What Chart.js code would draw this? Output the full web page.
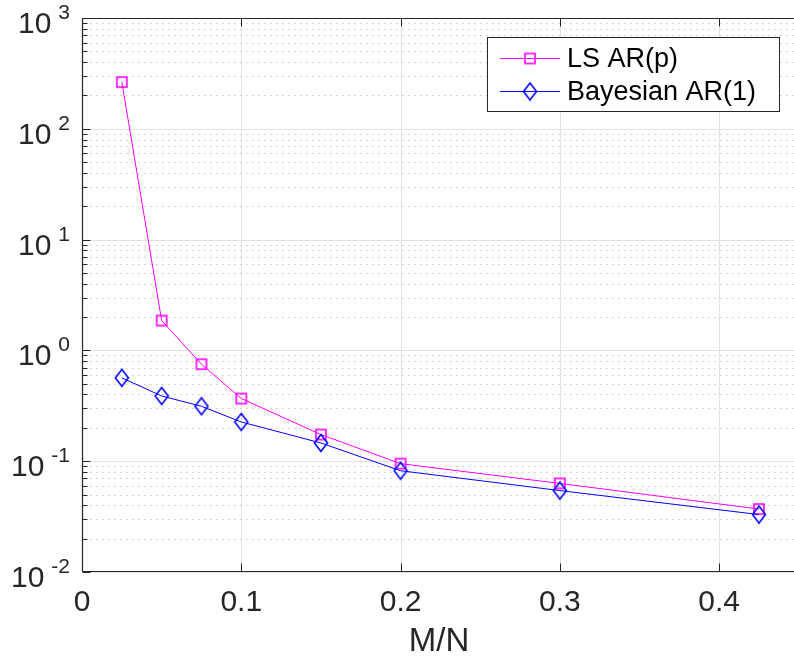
<!DOCTYPE html>
<html><head><meta charset="utf-8">
<script src="https://cdn.jsdelivr.net/npm/chart.js@4/dist/chart.umd.min.js"></script>
<style>html,body{margin:0;padding:0;background:#fff;overflow:hidden}#wrap{width:794px;height:657px;position:relative}</style>
</head><body><div id="wrap"><canvas id="c"></canvas></div>
<script>
const xValues = [0.025, 0.05, 0.075, 0.1, 0.15, 0.2, 0.3, 0.425];
const lsValues = [264, 1.86, 0.75, 0.368, 0.174, 0.095, 0.063, 0.037];
const bayesValues = [0.565, 0.388, 0.313, 0.226, 0.146, 0.082, 0.0543, 0.033];
const seriesNames = ['LS AR(p)', 'Bayesian AR(1)'];
const xTicks = [0, 0.1, 0.2, 0.3, 0.4];
const xTickLabels = ['0', '0.1', '0.2', '0.3', '0.4'];
const yExponents = [-2, -1, 0, 1, 2, 3];
const xTitle = 'M/N';

const FONT = '"Liberation Sans", Arial, Helvetica, sans-serif';
const TXT = '#262626';

function makeMarker(kind, color) {
  const c = document.createElement('canvas');
  if (kind === 'square') {
    c.width = 14; c.height = 14;
    const g = c.getContext('2d');
    g.strokeStyle = color; g.lineWidth = 1.6;
    g.strokeRect(2, 2, 10, 10);
  } else {
    c.width = 16; c.height = 20;
    const g = c.getContext('2d');
    g.strokeStyle = color; g.lineWidth = 1.6;
    g.beginPath(); g.moveTo(8, 1.5); g.lineTo(14.5, 10); g.lineTo(8, 18.5); g.lineTo(1.5, 10); g.closePath(); g.stroke();
  }
  return c;
}
const sqMarker = makeMarker('square', '#ff00ff');
const dmMarker = makeMarker('diamond', '#0000ff');

function seg(ctx, x1, y1, x2, y2) { ctx.beginPath(); ctx.moveTo(x1, y1); ctx.lineTo(x2, y2); ctx.stroke(); }

const matlabAxes = {
  id: 'matlabAxes',
  beforeDatasetsDraw(chart) {
    const { ctx, chartArea: a, scales: { x, y } } = chart;
    ctx.save();
    ctx.lineWidth = 1;
    ctx.strokeStyle = '#c8c8c8';
    ctx.setLineDash([1.5, 4.5]);
    for (let e = yExponents[0]; e < yExponents[yExponents.length - 1]; e++) {
      for (let k = 2; k <= 9; k++) {
        const py = Math.round(y.getPixelForValue(k * Math.pow(10, e))) + 0.5;
        seg(ctx, a.left + 2, py, a.right, py);
      }
    }
    ctx.setLineDash([]);
    ctx.strokeStyle = '#e2e2e2';
    yExponents.forEach(e => {
      const py = Math.round(y.getPixelForValue(Math.pow(10, e))) + 0.5;
      seg(ctx, a.left, py, a.right, py);
    });
    xTicks.forEach(v => {
      const px = Math.round(x.getPixelForValue(v)) + 0.5;
      seg(ctx, px, a.top, px, a.bottom);
    });
    ctx.restore();
  },
  afterDatasetsDraw(chart) {
    const { ctx, chartArea: a, scales: { x, y } } = chart;
    ctx.save();
    ctx.strokeStyle = TXT; ctx.lineWidth = 1.2;
    const L = Math.round(a.left) + 0.5, B = Math.round(a.bottom) - 0.5, T = Math.round(a.top) + 0.5;
    seg(ctx, L, T, L, B);
    seg(ctx, L, B, a.right, B);
    seg(ctx, L, T, a.right, T);
    ctx.lineWidth = 1;
    for (let e = yExponents[0]; e <= yExponents[yExponents.length - 1]; e++) {
      const py = Math.round(y.getPixelForValue(Math.pow(10, e))) + 0.5;
      seg(ctx, L, py, L + 8, py);
      if (e < yExponents[yExponents.length - 1]) {
        for (let k = 2; k <= 9; k++) {
          const q = Math.round(y.getPixelForValue(k * Math.pow(10, e))) + 0.5;
          seg(ctx, L, q, L + 5, q);
        }
      }
    }
    xTicks.forEach(v => {
      const px = Math.round(x.getPixelForValue(v)) + 0.5;
      seg(ctx, px, B, px, B - 8);
      seg(ctx, px, T, px, T + 8);
    });
    // labels
    ctx.fillStyle = TXT;
    ctx.textBaseline = 'alphabetic';
    ctx.textAlign = 'center';
    ctx.font = '30px ' + FONT;
    xTicks.forEach((v, i) => ctx.fillText(xTickLabels[i], x.getPixelForValue(v), 611));
    ctx.font = '33px ' + FONT;
    ctx.fillText(xTitle, 439, 651);
    ctx.textAlign = 'right';
    yExponents.forEach(e => {
      const py = y.getPixelForValue(Math.pow(10, e));
      const s = String(e);
      ctx.font = '21px ' + FONT;
      ctx.fillText(s, 70, py + 1);
      const w = ctx.measureText(s).width;
      ctx.font = '30px ' + FONT;
      ctx.fillText('10', 70 - w - 7, py + 15);
    });
    // legend
    ctx.fillStyle = '#ffffff';
    ctx.fillRect(488, 38, 292, 74);
    ctx.strokeStyle = TXT; ctx.lineWidth = 1;
    ctx.strokeRect(487.5, 37.5, 292, 74);
    const rows = [58.5, 91.5];
    chart.data.datasets.forEach((ds, i) => {
      const ry = rows[i];
      ctx.strokeStyle = ds.borderColor; ctx.lineWidth = 1;
      seg(ctx, 500, ry, 560, ry);
      const m = ds.pointStyle;
      ctx.drawImage(m, 530 - m.width / 2, ry - m.height / 2);
      ctx.fillStyle = '#000';
      ctx.font = '27px ' + FONT;
      ctx.textAlign = 'left';
      ctx.fillText(ds.label, 567, ry + 8.5);
    });
    ctx.restore();
  }
};

new Chart(document.getElementById('c'), {
  type: 'line',
  data: {
    datasets: [
      { label: seriesNames[0], data: xValues.map((v, i) => ({ x: v, y: lsValues[i] })), borderColor: '#ff00ff', borderWidth: 1, pointStyle: sqMarker, pointRadius: 7, order: 2, tension: 0 },
      { label: seriesNames[1], data: xValues.map((v, i) => ({ x: v, y: bayesValues[i] })), borderColor: '#0000ff', borderWidth: 1, pointStyle: dmMarker, pointRadius: 9, order: 1, tension: 0 }
    ]
  },
  options: {
    responsive: true, maintainAspectRatio: false, animation: false,
    layout: { autoPadding: false, padding: { left: 82, top: 18, right: 0, bottom: 85 } },
    plugins: { legend: { display: false }, tooltip: { enabled: false } },
    scales: {
      x: { type: 'linear', min: 0, max: 0.447, display: false },
      y: { type: 'logarithmic', min: 0.01, max: 1000, display: false }
    }
  },
  plugins: [matlabAxes]
});
</script>
</body></html>
